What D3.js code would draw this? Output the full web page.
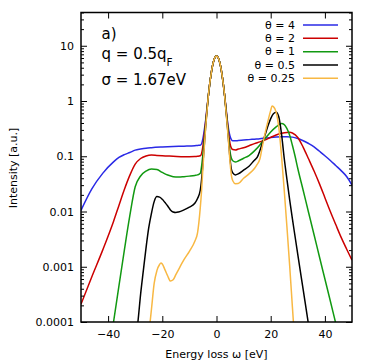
<!DOCTYPE html>
<html>
<head>
<meta charset="utf-8">
<script src="https://cdn.jsdelivr.net/npm/d3@7"></script>
<style>
  body { margin: 0; background: #fff; }
  svg { display: block; }
  text { font-family: "DejaVu Sans", sans-serif; fill: #000; }
</style>
</head>
<body>
<div id="chart"></div>
<script>
// axis ticks
const xTicks = [-40, -20, 0, 20, 40]
const yTicks = [0.0001, 0.001, 0.01, 0.1, 1, 10]
const yTickLabels = ["0.0001", "0.001", "0.01", "0.1", "1", "10"]

const thetaLabels = ["θ = 4", "θ = 2", "θ = 1", "θ = 0.5", "θ = 0.25"]
const colors = ["#2a2ae6", "#cc0000", "#119911", "#000000", "#f8b843"]

// elastic peak, common to every curve  [energy loss (eV), intensity]
const peakTop = [[-3, 1.25], [-2.5, 2.05], [-2, 3.08], [-1.5, 4.28], [-1, 5.4], [-0.5, 6.2], [0, 6.5],
  [0.5, 6.2], [1, 5.4], [1.5, 4.28], [2, 3.08], [2.5, 2.05], [3, 1.25]]

// theta = 4
const theta4Left = [[-50, 0.0105], [-46, 0.0257], [-42, 0.049], [-38, 0.079], [-36, 0.095], [-34, 0.107],
  [-32, 0.117], [-30, 0.129], [-28, 0.135], [-26, 0.140], [-24, 0.143], [-20, 0.147], [-16, 0.150],
  [-12, 0.152], [-8, 0.155], [-7, 0.157], [-6, 0.158], [-5.5, 0.168], [-5, 0.21], [-4.5, 0.30],
  [-4, 0.45], [-3.5, 0.76]]
const theta4Right = [[3.5, 0.76], [4, 0.45], [4.5, 0.30], [5, 0.23], [5.5, 0.20], [6, 0.19], [7, 0.19],
  [8, 0.192], [10, 0.196], [12, 0.200], [14, 0.204], [16, 0.208], [18, 0.213], [20, 0.218], [22, 0.222],
  [24, 0.225], [26, 0.226], [28, 0.222], [30, 0.209], [32, 0.191], [34, 0.170], [36, 0.148],
  [38, 0.123], [40, 0.102], [42, 0.084], [44, 0.068], [46, 0.055], [48, 0.043], [50, 0.030]]

// theta = 2
const theta2Left = [[-50, 2.1e-4], [-46, 6.6e-4], [-42, 0.0020], [-38, 0.0066], [-36, 0.0129], [-34, 0.025],
  [-32, 0.045], [-30, 0.072], [-28, 0.091], [-26, 0.101], [-24, 0.105], [-22, 0.1035], [-20, 0.102],
  [-16, 0.100], [-12, 0.098], [-8, 0.099], [-7, 0.100], [-6, 0.102], [-5.5, 0.113], [-5, 0.155],
  [-4.5, 0.25], [-4, 0.42], [-3.5, 0.73]]
const theta2Right = [[3.5, 0.73], [4, 0.42], [4.5, 0.25], [5, 0.17], [5.5, 0.14], [6, 0.132], [7, 0.13],
  [8, 0.135], [10, 0.143], [12, 0.155], [14, 0.169], [16, 0.182], [18, 0.198], [20, 0.22], [22, 0.243],
  [24, 0.26], [26, 0.27], [27, 0.271], [28, 0.263], [30, 0.219], [32, 0.145], [34, 0.089], [36, 0.054],
  [38, 0.0316], [40, 0.0178], [42, 0.0100], [44, 0.0058], [46, 0.0034], [48, 0.0021], [50, 0.00132]]

// theta = 1
const theta1Left = [[-50, 1.3e-8], [-46, 2.5e-7], [-42, 5e-6], [-38, 1.0e-4], [-36, 4.5e-4], [-34, 0.0020],
  [-32, 0.0083], [-30, 0.028], [-28, 0.044], [-26, 0.054], [-24, 0.059], [-22, 0.0575], [-20, 0.051],
  [-18, 0.0457], [-16, 0.0427], [-14, 0.042], [-12, 0.0427], [-10, 0.0437], [-8, 0.045], [-7, 0.046],
  [-6, 0.049], [-5.5, 0.066], [-5, 0.11], [-4.5, 0.20], [-4, 0.38], [-3.5, 0.70]]
const theta1Right = [[3.5, 0.70], [4, 0.39], [4.5, 0.21], [5, 0.12], [5.5, 0.092], [6, 0.083], [7, 0.079],
  [8, 0.082], [10, 0.092], [12, 0.103], [14, 0.125], [16, 0.160], [17, 0.186], [18, 0.212], [20, 0.275],
  [22, 0.34], [23, 0.37], [24, 0.39], [25, 0.375], [26, 0.316], [27, 0.24], [28, 0.158], [29, 0.10],
  [30, 0.060], [32, 0.024], [34, 0.0095], [36, 0.0038], [38, 0.0015], [40, 6.0e-4], [42, 2.4e-4],
  [44, 9.5e-5], [46, 3.8e-5], [48, 1.6e-5], [50, 6.3e-6]]

// theta = 0.5
const theta05Left = [[-50, 1e-9], [-36, 1e-7], [-32, 5e-6], [-30, 4e-5], [-29, 1.0e-4], [-28, 3.2e-4],
  [-27, 8.5e-4], [-26, 0.0022], [-25, 0.0051], [-24, 0.0093], [-23, 0.0151], [-22, 0.0186],
  [-21, 0.0182], [-20, 0.0166], [-19, 0.0145], [-18, 0.0126], [-17, 0.0107], [-16, 0.0098],
  [-15, 0.0096], [-14, 0.0098], [-12, 0.0107], [-10, 0.012], [-8, 0.0141], [-7, 0.0172], [-6, 0.024],
  [-5.5, 0.038], [-5, 0.076], [-4.5, 0.16], [-4, 0.35], [-3.5, 0.67]]
const theta05Right = [[3.5, 0.67], [4, 0.36], [4.5, 0.18], [5, 0.09], [5.5, 0.058], [6, 0.050], [7, 0.046],
  [8, 0.048], [10, 0.056], [12, 0.066], [14, 0.085], [15, 0.095], [16, 0.126], [17, 0.178], [18, 0.251],
  [19, 0.355], [20, 0.479], [21, 0.589], [22, 0.624], [23, 0.513], [24, 0.251], [25, 0.091], [26, 0.038],
  [27, 0.0162], [28, 0.0074], [29, 0.0035], [30, 0.00166], [32, 3.8e-4], [34, 8.7e-5], [36, 2e-5],
  [40, 1e-6], [50, 1e-9]]

// theta = 0.25
const theta025Left = [[-50, 1e-10], [-32, 1e-8], [-28, 2.5e-6], [-26, 2e-5], [-25, 6e-5], [-24.5, 1e-4],
  [-24, 1.7e-4], [-23, 5.0e-4], [-22, 8.5e-4], [-21, 0.00110], [-20.5, 0.00117], [-20, 0.00112],
  [-19, 8.8e-4], [-18, 6.8e-4], [-17, 5.5e-4], [-16, 5.8e-4], [-15, 7.2e-4], [-14, 8.9e-4],
  [-12, 0.00134], [-10, 0.0019], [-8, 0.0029], [-7, 0.0041], [-6, 0.0115], [-5.5, 0.024], [-5, 0.063],
  [-4.5, 0.148], [-4, 0.33], [-3.5, 0.66]]
const theta025Right = [[3.5, 0.66], [4, 0.34], [4.5, 0.165], [5, 0.078], [5.5, 0.045], [6, 0.036],
  [7, 0.0318], [8, 0.032], [10, 0.040], [12, 0.048], [14, 0.060], [15, 0.071], [16, 0.089], [17, 0.158],
  [18, 0.27], [19, 0.437], [20, 0.676], [20.5, 0.81], [21, 0.79], [22, 0.63], [23, 0.33], [24, 0.10],
  [25, 0.024], [26, 0.0052], [27, 0.00105], [28, 1.9e-4], [29, 3.5e-5], [30, 6e-6], [34, 1e-8], [50, 1e-12]]

const curves = [
  theta4Left.concat(peakTop, theta4Right),
  theta2Left.concat(peakTop, theta2Right),
  theta1Left.concat(peakTop, theta1Right),
  theta05Left.concat(peakTop, theta05Right),
  theta025Left.concat(peakTop, theta025Right)
]

const W = 374, H = 364
const margin = { top: 12.5, right: 22, bottom: 42, left: 81 }

const svg = d3.select("#chart").append("svg")
  .attr("width", W)
  .attr("height", H)

let x = d3.scaleLinear().domain([-50, 50]).range([margin.left, W - margin.right])
let y = d3.scaleLog().domain([1e-4, 40]).range([H - margin.bottom, margin.top])

svg.append("clipPath").attr("id", "plotclip")
  .append("rect")
  .attr("x", margin.left).attr("y", margin.top)
  .attr("width", W - margin.left - margin.right)
  .attr("height", H - margin.top - margin.bottom)

// ---- curves
let line = d3.line()
  .x(d => x(d[0]))
  .y(d => y(d[1]))
  .curve(d3.curveMonotoneX)

svg.append("g").attr("clip-path", "url(#plotclip)")
  .selectAll("path")
  .data(curves)
  .enter().append("path")
  .attr("d", line)
  .attr("fill", "none")
  .attr("stroke", (d, i) => colors[i])
  .attr("stroke-width", 1.5)

// ---- axes (ticks inward, mirrored)
const minor = y.ticks().filter(v => yTicks.indexOf(v) < 0 && v <= 40)

function styleAxis(g) {
  g.select(".domain").remove()
  g.selectAll(".tick line").attr("stroke", "#000").attr("stroke-width", 1)
  g.selectAll("text").attr("font-size", 11).attr("font-family", "DejaVu Sans").attr("fill", "#000")
}

svg.append("g")
  .attr("transform", `translate(0,${H - margin.bottom})`)
  .call(d3.axisBottom(x).tickValues(xTicks).tickSizeInner(-6).tickSizeOuter(0).tickPadding(8))
  .call(styleAxis)

svg.append("g")
  .attr("transform", `translate(0,${margin.top})`)
  .call(d3.axisTop(x).tickValues(xTicks).tickSizeInner(-6).tickSizeOuter(0).tickFormat(""))
  .call(styleAxis)

svg.append("g")
  .attr("transform", `translate(${margin.left},0)`)
  .call(d3.axisLeft(y).tickValues(yTicks).tickSizeInner(-6).tickSizeOuter(0).tickPadding(7)
    .tickFormat((d, i) => yTickLabels[i]))
  .call(styleAxis)

svg.append("g")
  .attr("transform", `translate(${W - margin.right},0)`)
  .call(d3.axisRight(y).tickValues(yTicks).tickSizeInner(-6).tickSizeOuter(0).tickFormat(""))
  .call(styleAxis)

svg.append("g")
  .attr("transform", `translate(${margin.left},0)`)
  .call(d3.axisLeft(y).tickValues(minor).tickSizeInner(-3).tickSizeOuter(0).tickFormat(""))
  .call(styleAxis)

svg.append("g")
  .attr("transform", `translate(${W - margin.right},0)`)
  .call(d3.axisRight(y).tickValues(minor).tickSizeInner(-3).tickSizeOuter(0).tickFormat(""))
  .call(styleAxis)

// frame
svg.append("rect")
  .attr("x", margin.left).attr("y", margin.top)
  .attr("width", W - margin.left - margin.right)
  .attr("height", H - margin.top - margin.bottom)
  .attr("fill", "none")
  .attr("stroke", "#000")
  .attr("stroke-width", 1.5)

// axis titles
svg.append("text")
  .attr("x", (margin.left + W - margin.right) / 2)
  .attr("y", 357.5)
  .attr("text-anchor", "middle")
  .attr("font-size", 11)
  .text("Energy loss ω [eV]")

svg.append("text")
  .attr("transform", "translate(17,168) rotate(-90)")
  .attr("text-anchor", "middle")
  .attr("font-size", 11)
  .text("Intensity [a.u.]")

// ---- legend
const legend = svg.append("g")
thetaLabels.forEach(function (lab, i) {
  let ly = 25 + i * 13.33
  legend.append("text")
    .attr("x", 295).attr("y", ly + 3.8)
    .attr("text-anchor", "end")
    .attr("font-size", 11)
    .text(lab)
  legend.append("line")
    .attr("x1", 303).attr("x2", 338)
    .attr("y1", ly).attr("y2", ly)
    .attr("stroke", colors[i])
    .attr("stroke-width", 1.5)
})

// ---- annotations
svg.append("text").attr("x", 101.5).attr("y", 38.8).attr("font-size", 15).text("a)")

let qText = svg.append("text").attr("x", 101.5).attr("y", 59.3).attr("font-size", 15)
qText.append("tspan").text("q = 0.5q")
qText.append("tspan").attr("font-size", 10.5).attr("dy", 7).text("F")

svg.append("text").attr("x", 101.5).attr("y", 85).attr("font-size", 15).text("σ = 1.67eV")
</script>
</body>
</html>
